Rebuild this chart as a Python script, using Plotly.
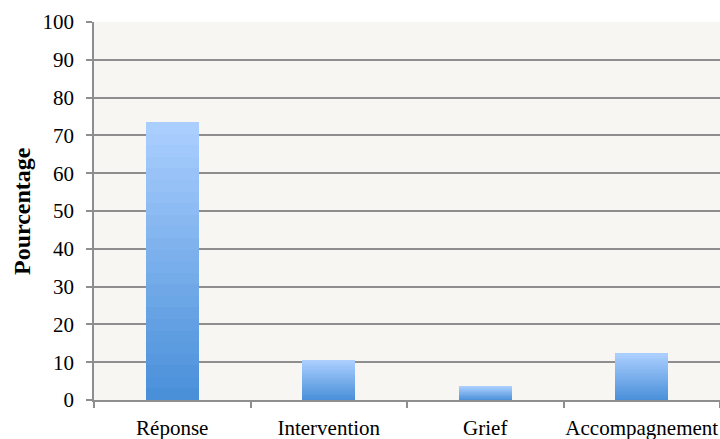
import plotly.graph_objects as go

categories = ["Réponse", "Intervention", "Grief", "Accompagnement"]
values = [73.5, 10.6, 3.7, 12.4]
y_ticks = [0, 10, 20, 30, 40, 50, 60, 70, 80, 90, 100]
y_title = "Pourcentage"

# gradient rendering: each bar drawn as stacked slices of its own value
N = 24
top_rgb = (170, 206, 254)
bot_rgb = (74, 144, 217)

fig = go.Figure()
for k in range(N):
    t = k / (N - 1)
    r = round(bot_rgb[0] + (top_rgb[0] - bot_rgb[0]) * t)
    g = round(bot_rgb[1] + (top_rgb[1] - bot_rgb[1]) * t)
    b = round(bot_rgb[2] + (top_rgb[2] - bot_rgb[2]) * t)
    fig.add_trace(go.Bar(
        x=categories,
        y=[v / N for v in values],
        marker=dict(color=f"rgb({r},{g},{b})", line=dict(width=0)),
        width=0.34,
        showlegend=False,
        hoverinfo="skip",
    ))

fig.update_layout(
    width=720, height=439,
    barmode="stack",
    bargap=0,
    paper_bgcolor="white",
    plot_bgcolor="#F7F6F3",
    margin=dict(l=94, r=0, t=22, b=39),
    font=dict(family="Liberation Serif", size=21, color="black"),
    showlegend=False,
)
fig.update_xaxes(
    type="category",
    range=[-0.5, 3.5],
    showgrid=False,
    automargin=False,
    tickangle=0,
    showline=True, linecolor="#8E8E8E", linewidth=1.5,
    ticks="outside", tickson="boundaries", ticklen=6, tickcolor="#8E8E8E", tickwidth=1.5,
    ticklabelstandoff=8,
    tickfont=dict(family="Liberation Serif", size=21, color="black"),
)
fig.update_yaxes(
    range=[0, 100],
    tickvals=y_ticks,
    automargin=False,
    showgrid=True, gridcolor="#8E8E8E", gridwidth=1.5,
    showline=True, linecolor="#8E8E8E", linewidth=1.5,
    ticks="outside", ticklen=6, tickcolor="#8E8E8E", tickwidth=1.5,
    ticklabelstandoff=8,
    zeroline=False,
    tickfont=dict(family="Liberation Serif", size=21, color="black"),
)
fig.add_annotation(
    text=f"<b>{y_title}</b>", textangle=-90,
    xref="paper", yref="paper", x=-0.115, y=0.5,
    xanchor="center", yanchor="middle", showarrow=False,
    font=dict(family="Liberation Serif", size=24, color="black"),
)
fig.write_html("out.html", config={"displayModeBar": False},
               post_script="document.body.style.margin='0';")
